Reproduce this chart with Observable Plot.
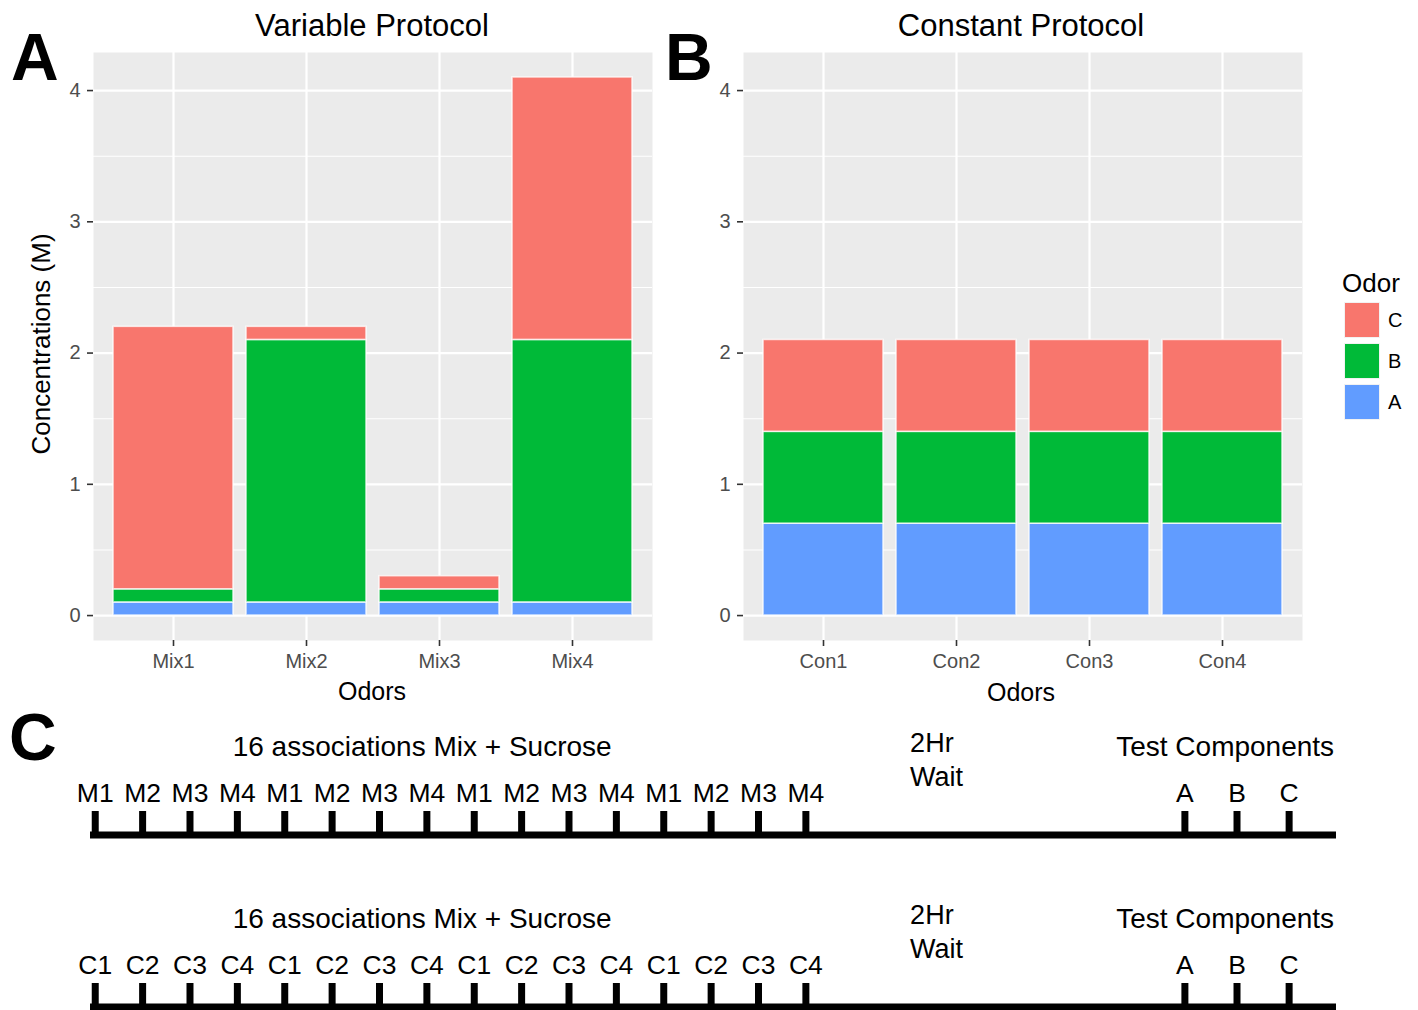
<!DOCTYPE html>
<html><head><meta charset="utf-8">
<script src="https://cdn.jsdelivr.net/npm/d3@7"></script>
<script src="https://cdn.jsdelivr.net/npm/@observablehq/plot@0.6"></script>
<style>
body{margin:0;background:#fff;font-family:"Liberation Sans",Arial,sans-serif;}
#root{position:relative;width:1418px;height:1010px;overflow:hidden;background:#fff;}
#root > svg{position:absolute;}
.t{position:absolute;white-space:nowrap;line-height:1;color:#000;}
</style></head><body><div id="root"></div>
<script>
// ---------- data ----------
const odors = ["A", "B", "C"];
const odorColors = ["#619CFF", "#00BA38", "#F8766D"];
const legendOrder = ["C", "B", "A"];

const mixes = ["Mix1", "Mix2", "Mix3", "Mix4"];
const mixA = [0.1, 0.1, 0.1, 0.1];
const mixB = [0.1, 2.0, 0.1, 2.0];
const mixC = [2.0, 0.1, 0.1, 2.0];

const cons = ["Con1", "Con2", "Con3", "Con4"];
const conA = [0.7, 0.7, 0.7, 0.7];
const conB = [0.7, 0.7, 0.7, 0.7];
const conC = [0.7, 0.7, 0.7, 0.7];

const yTicks = [0, 1, 2, 3, 4];
const yMinor = [0.5, 1.5, 2.5, 3.5];

// timeline (panel C)
const trialPos = [0, 1, 2, 3, 4, 5, 6, 7, 8, 9, 10, 11, 12, 13, 14, 15];
const mixTrialLabels = ["M1","M2","M3","M4","M1","M2","M3","M4","M1","M2","M3","M4","M1","M2","M3","M4"];
const conTrialLabels = ["C1","C2","C3","C4","C1","C2","C3","C4","C1","C2","C3","C4","C1","C2","C3","C4"];
const testLabels = ["A", "B", "C"];
const testPos = [23.0, 24.1, 25.2];
const lineExtent = [-0.1, 26.2];
const trainHeader = "16 associations Mix + Sucrose";
const trainHeaderPos = 6.9;
const waitHeader = "2Hr\nWait";
const waitHeaderPos = 17.2;
const testHeader = "Test Components";
const testHeaderPos = 23.85;

const FONT = '"Liberation Sans", Arial, sans-serif';
const root = document.getElementById("root");

function place(el, left, top) {
  el.style.left = left + "px";
  el.style.top = top + "px";
  root.appendChild(el);
  return el;
}
function label(text, {x, baseline, size, anchor = "start", weight = "normal", color = "#000"}) {
  const d = document.createElement("div");
  d.className = "t";
  d.textContent = text;
  d.style.fontSize = size + "px";
  d.style.fontWeight = weight;
  d.style.color = color;
  const top = baseline - 0.8465 * size;
  if (anchor === "middle") d.style.transform = "translateX(-50%)";
  return place(d, x, top);
}

// ---------- panels A and B ----------
function barPanel(cats, A, B, C) {
  const rows = [];
  cats.forEach((c, i) => {
    rows.push({cat: c, odor: "A", v: A[i]});
    rows.push({cat: c, odor: "B", v: B[i]});
    rows.push({cat: c, odor: "C", v: C[i]});
  });
  return Plot.plot({
    width: 660, height: 720,
    marginLeft: 93, marginRight: 8, marginTop: 52, marginBottom: 80,
    style: {fontFamily: FONT, fontSize: "20px", background: "transparent", overflow: "visible"},
    x: {domain: cats, paddingInner: 0.1, paddingOuter: 0.145, label: null},
    y: {domain: [-0.19, 4.29], label: null},
    color: {domain: odors, range: odorColors},
    marks: [
      Plot.frame({fill: "#EBEBEB", stroke: null}),
      Plot.ruleY(yMinor, {stroke: "#fff", strokeWidth: 1.1}),
      Plot.ruleY(yTicks, {stroke: "#fff", strokeWidth: 2.2}),
      Plot.gridX({stroke: "#fff", strokeOpacity: 1, strokeWidth: 2.2}),
      Plot.barY(rows, Plot.stackY({x: "cat", y: "v", fill: "odor", stroke: "#fff", strokeWidth: 1.6, strokeOpacity: 0.75})),
      Plot.axisY(yTicks, {tickSize: 6, tickPadding: 7, tickFormat: d3.format("d"), stroke: "#333", strokeWidth: 1.6, fill: "#4D4D4D", fontSize: 20, label: null}),
      Plot.axisX({tickSize: 6, tickPadding: 7, stroke: "#333", strokeWidth: 1.6, fill: "#4D4D4D", fontSize: 20, label: null})
    ]
  });
}

const pA = barPanel(mixes, mixA, mixB, mixC);
place(pA, 0, 0);
const pB = barPanel(cons, conA, conB, conC);
place(pB, 650, 0);

label("Variable Protocol", {x: 372, baseline: 36, size: 31, anchor: "middle"});
label("Constant Protocol", {x: 1021, baseline: 36, size: 31, anchor: "middle"});
label("Odors", {x: 372, baseline: 700, size: 25, anchor: "middle"});
label("Odors", {x: 1021, baseline: 701, size: 25, anchor: "middle"});
label("A", {x: 11, baseline: 80, size: 66, weight: "bold"});
label("B", {x: 665, baseline: 80, size: 66, weight: "bold"});
label("C", {x: 9, baseline: 760, size: 66, weight: "bold"});

// rotated y-axis title
{
  const d = document.createElement("div");
  d.className = "t";
  d.textContent = "Concentrations (M)";
  d.style.fontSize = "26px";
  d.style.transform = "translate(-50%,-50%) rotate(-90deg)";
  place(d, 40.5, 344);
}

// legend
label("Odor", {x: 1342, baseline: 292, size: 26});
legendOrder.forEach((k, i) => {
  const sw = document.createElement("div");
  sw.style.position = "absolute";
  sw.style.width = "34px";
  sw.style.height = "34px";
  sw.style.background = odorColors[odors.indexOf(k)];
  sw.style.border = "1px solid #f2f2f2";
  place(sw, 1344, 302 + i * 41);
  label(k, {x: 1388, baseline: 327 + i * 41, size: 20});
});

// ---------- panel C timelines ----------
function timeline(trialLabels) {
  const ticks = trialLabels.map((l, i) => ({label: l, pos: trialPos[i]}))
    .concat(testLabels.map((l, i) => ({label: l, pos: testPos[i]})));
  return Plot.plot({
    width: 1418, height: 150,
    marginLeft: 90, marginRight: 82, marginTop: 111, marginBottom: 15.5,
    style: {fontFamily: FONT, fontSize: "26px", color: "#000", background: "transparent", overflow: "visible"},
    x: {domain: lineExtent, axis: null},
    y: {domain: [0, 1], axis: null},
    marks: [
      Plot.ruleY([{x1: lineExtent[0], x2: lineExtent[1], y: 0}], {x1: "x1", x2: "x2", y: "y", stroke: "#000", strokeWidth: 7}),
      Plot.ruleX(ticks, {x: "pos", y1: 0, y2: 1, stroke: "#000", strokeWidth: 7}),
      Plot.text(ticks, {x: "pos", y: 1, text: "label", lineAnchor: "top", dy: -28, fontSize: 26.5, fill: "#000"}),
      Plot.text([trainHeader], {x: trainHeaderPos, y: 1, text: d => d, lineAnchor: "top", dy: -75, fontSize: 28, fill: "#000"}),
      Plot.text([waitHeader], {x: waitHeaderPos, y: 1, text: d => d, textAnchor: "start", lineAnchor: "top", lineHeight: 1.25, dy: -83, fontSize: 27, fill: "#000"}),
      Plot.text([testHeader], {x: testHeaderPos, y: 1, text: d => d, lineAnchor: "top", dy: -75, fontSize: 28, fill: "#000"})
    ]
  });
}
place(timeline(mixTrialLabels), 0, 700);
place(timeline(conTrialLabels), 0, 872);
</script>
</body></html>
